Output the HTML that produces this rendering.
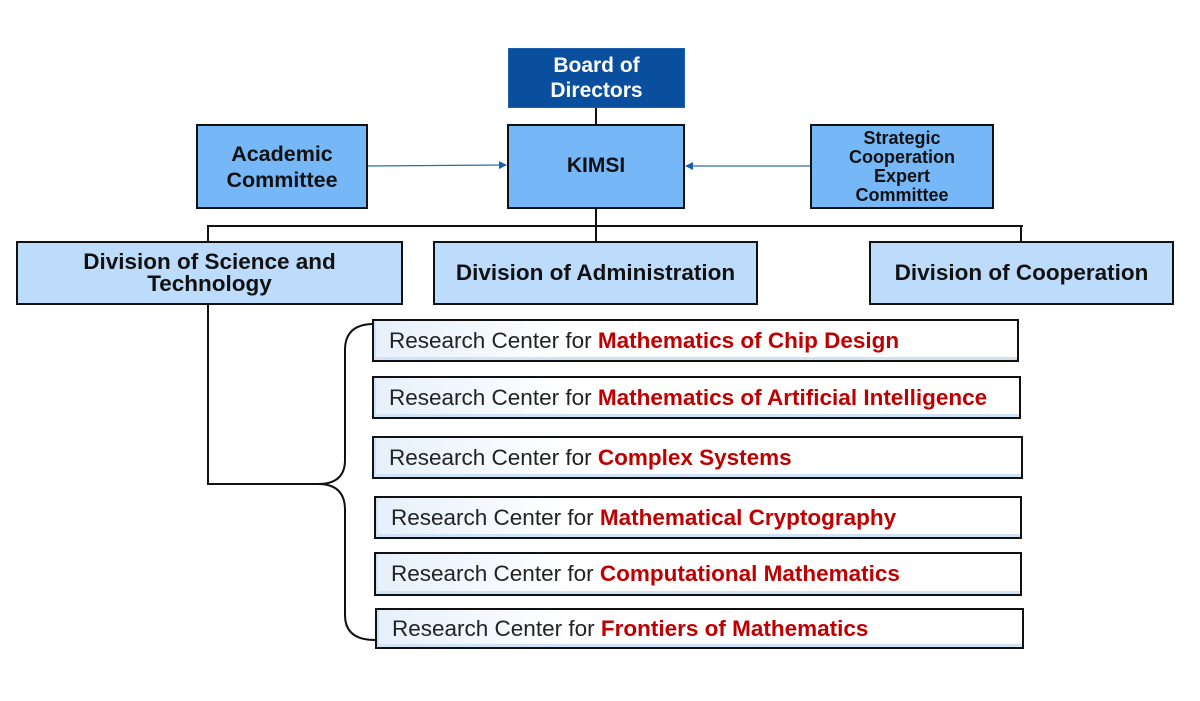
<!DOCTYPE html>
<html><head><meta charset="utf-8"><style>
body{margin:0;width:1200px;height:701px;background:#fff;position:relative;overflow:hidden;font-family:"Liberation Sans",Arial,sans-serif}
.b{position:absolute;box-sizing:border-box;border:2px solid #111;display:flex;align-items:center;justify-content:center;text-align:center;font-weight:bold;color:#111;line-height:1.05}
.k{background:#76b7f7}
.d{background:#bddcfb;font-size:22.5px}
.r{position:absolute;box-sizing:border-box;border:2.5px solid #111;background:linear-gradient(90deg,#e6f0fb 0%,#fff 30%,#fff 100%);box-shadow:inset 2px -3px 0 #cfe2f6;font-size:22.5px;color:#222;padding-left:15px;display:flex;align-items:center;white-space:nowrap}
.r b{color:#c00000}
.l{position:absolute;background:#111}
</style></head><body>
<div class="b" style="left:508px;top:48px;width:177px;height:60px;background:#0a4f9e;border:1px solid #1b5fae;color:#fff;font-size:21px;line-height:25px">Board of<br>Directors</div>
<div class="b k" style="left:507px;top:124px;width:178px;height:85px;font-size:21px">KIMSI</div>
<div class="b k" style="left:196px;top:124px;width:172px;height:85px;font-size:21.5px;line-height:26px">Academic<br>Committee</div>
<div class="b k" style="left:810px;top:124px;width:184px;height:85px;font-size:18px;line-height:19px">Strategic<br>Cooperation<br>Expert<br>Committee</div>
<div class="l" style="left:595px;top:108px;width:2px;height:16px"></div>
<div class="l" style="left:595px;top:209px;width:2px;height:32px"></div>
<div class="l" style="left:207px;top:225px;width:816px;height:2px"></div>
<div class="l" style="left:207px;top:225px;width:2px;height:16px"></div>
<div class="l" style="left:1020px;top:225px;width:2px;height:16px"></div>
<div class="b d" style="left:16px;top:241px;width:387px;height:64px;line-height:22px">Division of Science and<br>Technology</div>
<div class="b d" style="left:433px;top:241px;width:325px;height:64px">Division of Administration</div>
<div class="b d" style="left:869px;top:241px;width:305px;height:64px">Division of Cooperation</div>
<svg style="position:absolute;left:0;top:0" width="1200" height="701">
<defs><marker id="a" markerWidth="8" markerHeight="8" refX="7" refY="4" orient="auto" markerUnits="userSpaceOnUse"><path d="M0,0L8,4L0,8z" fill="#1a5fae"/></marker></defs>
<line x1="368" y1="166" x2="506" y2="165" stroke="#2a6cb8" stroke-width="1.2" marker-end="url(#a)"/>
<line x1="810" y1="166" x2="686" y2="166" stroke="#2a6cb8" stroke-width="1.2" marker-end="url(#a)"/>
<path d="M208,305 V484 H318 Q345,484 345,460 V350 Q345,325 372,324 M318,484 Q345,484 345,510 V615 Q345,640 375,640" fill="none" stroke="#111" stroke-width="2"/>
</svg>
<div class="r" style="left:372px;top:319px;width:647px;height:43px">Research Center for&nbsp;<b>Mathematics of Chip Design</b></div>
<div class="r" style="left:372px;top:376px;width:649px;height:43px">Research Center for&nbsp;<b>Mathematics of Artificial Intelligence</b></div>
<div class="r" style="left:372px;top:436px;width:651px;height:43px">Research Center for&nbsp;<b>Complex Systems</b></div>
<div class="r" style="left:374px;top:496px;width:648px;height:43px">Research Center for&nbsp;<b>Mathematical Cryptography</b></div>
<div class="r" style="left:374px;top:552px;width:648px;height:44px">Research Center for&nbsp;<b>Computational Mathematics</b></div>
<div class="r" style="left:375px;top:608px;width:649px;height:41px">Research Center for&nbsp;<b>Frontiers of Mathematics</b></div>
</body></html>
